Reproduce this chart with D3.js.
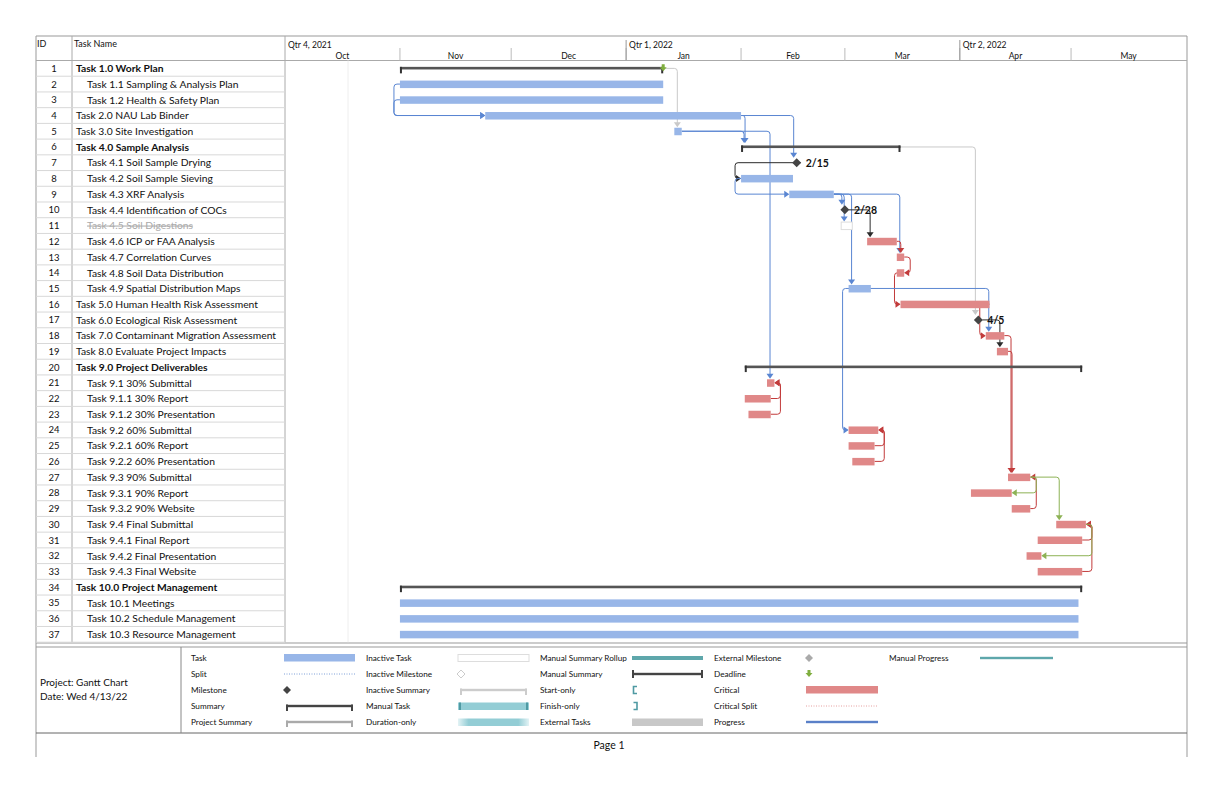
<!DOCTYPE html>
<html>
<head>
<meta charset="utf-8">
<script src="https://cdn.jsdelivr.net/npm/d3@7"></script>
<style>
  body { margin: 0; background: #fff; }
  text { font-family: Lato, "Open Sans", sans-serif; fill: #111; }
</style>
</head>
<body>
<div id="chart"></div>
<script>
// ---- data ----
var taskNames = [
  "Task 1.0 Work Plan", "Task 1.1 Sampling & Analysis Plan", "Task 1.2 Health & Safety Plan",
  "Task 2.0 NAU Lab Binder", "Task 3.0 Site Investigation", "Task 4.0 Sample Analysis",
  "Task 4.1 Soil Sample Drying", "Task 4.2 Soil Sample Sieving", "Task 4.3 XRF Analysis",
  "Task 4.4 Identification of COCs", "Task 4.5 Soil Digestions", "Task 4.6 ICP or FAA Analysis",
  "Task 4.7 Correlation Curves", "Task 4.8 Soil Data Distribution", "Task 4.9 Spatial Distribution Maps",
  "Task 5.0 Human Health Risk Assessment", "Task 6.0 Ecological Risk Assessment",
  "Task 7.0 Contaminant Migration Assessment", "Task 8.0 Evaluate Project Impacts",
  "Task 9.0 Project Deliverables", "Task 9.1 30% Submittal", "Task 9.1.1 30% Report",
  "Task 9.1.2 30% Presentation", "Task 9.2 60% Submittal", "Task 9.2.1 60% Report",
  "Task 9.2.2 60% Presentation", "Task 9.3 90% Submittal", "Task 9.3.1 90% Report",
  "Task 9.3.2 90% Website", "Task 9.4 Final Submittal", "Task 9.4.1 Final Report",
  "Task 9.4.2 Final Presentation", "Task 9.4.3 Final Website", "Task 10.0 Project Management",
  "Task 10.1 Meetings", "Task 10.2 Schedule Management", "Task 10.3 Resource Management"
];
var taskLevels = [0,1,1,0,0,0,1,1,1,1,1,1,1,1,1,0,0,0,0,0,1,1,1,1,1,1,1,1,1,1,1,1,1,0,1,1,1];
var taskKinds = [
  "summary","task","task","task","task","summary","milestone","task","task","milestone",
  "inactive","crit","crit","crit","task","crit","milestone","crit","crit","summary",
  "crit","crit","crit","crit","crit","crit","crit","crit","crit","crit",
  "crit","crit","crit","summary","task","task","task"
];
var taskStarts = [
  "2021-11-01","2021-11-01","2021-11-01","2021-11-24","2022-01-14","2022-02-01","2022-02-15","2022-02-01","2022-02-14","2022-02-28",
  "2022-02-28","2022-03-07","2022-03-15","2022-03-15","2022-03-02","2022-03-16","2022-04-05","2022-04-08","2022-04-11","2022-02-02",
  "2022-02-08","2022-02-02","2022-02-03","2022-03-02","2022-03-02","2022-03-03","2022-04-14","2022-04-04","2022-04-15","2022-04-27",
  "2022-04-22","2022-04-19","2022-04-22","2021-11-01","2021-11-01","2021-11-01","2021-11-01"
];
var taskEnds = [
  "2022-01-11","2022-01-11","2022-01-11","2022-02-01","2022-01-16","2022-03-16","2022-02-15","2022-02-15","2022-02-26","2022-02-28",
  "2022-03-03","2022-03-15","2022-03-17","2022-03-17","2022-03-08","2022-04-09","2022-04-05","2022-04-13","2022-04-14","2022-05-04",
  "2022-02-10","2022-02-09","2022-02-09","2022-03-10","2022-03-09","2022-03-09","2022-04-20","2022-04-15","2022-04-20","2022-05-05",
  "2022-05-04","2022-04-23","2022-05-04","2022-05-04","2022-05-03","2022-05-03","2022-05-03"
];
// [predecessor, successor, type, colour key]
var links = [
  [2,4,"SS","blue"], [3,4,"SS","blue"], [1,5,"FS","grey"], [4,6,"FS","blue"], [4,7,"FS","blue"],
  [5,6,"FS","blue"], [5,21,"FS","blue"], [7,8,"FS","dark"], [8,9,"SS","blue"], [9,10,"FS","blue"],
  [9,11,"FS","blue"], [9,15,"FS","blue"], [9,13,"FS","blue"], [10,12,"FS","dark"], [12,13,"FS","red"],
  [13,14,"FF","red"], [14,16,"FS","red"], [6,17,"FS","grey"], [15,18,"FS","blue"], [17,19,"FS","dark"],
  [16,18,"FS","red"], [18,27,"FS","red"], [19,27,"FS","red"], [15,24,"FS","blue"],
  [22,21,"FF","red"], [23,21,"FF","red"], [25,24,"FF","red"], [26,24,"FF","red"],
  [29,27,"FF","red"], [27,28,"FF","green"], [27,30,"FS","green"], [31,30,"FF","red"],
  [33,30,"FF","red"], [30,32,"FF","green"]
];
var deadlines = [[1, "2022-01-11"]];
var timelineStart = "2021-10-01", timelineEnd = "2022-06-01";
var quarterStarts = ["2021-10-01","2022-01-01","2022-04-01"];
var quarterLabels = ["Qtr 4, 2021","Qtr 1, 2022","Qtr 2, 2022"];
var markerLineDate = "2021-10-18";
var legendLabels = [
  ["Task","Split","Milestone","Summary","Project Summary"],
  ["Inactive Task","Inactive Milestone","Inactive Summary","Manual Task","Duration-only"],
  ["Manual Summary Rollup","Manual Summary","Start-only","Finish-only","External Tasks"],
  ["External Milestone","Deadline","Critical","Critical Split","Progress"],
  ["Manual Progress"]
];
var projectInfo = ["Project: Gantt Chart", "Date: Wed 4/13/22"];
var pageLabel = "Page 1";

// ---- layout ----
var W = 1224, H = 792;
var frameLeft = 36, frameRight = 1187, frameTop = 36, frameBottom = 757;
var idCol = 72, nameCol = 285, headerBottom = 60.5, rowsBottom = 642.2;
var colors = { blue: "#5a86d2", red: "#c23b3b", grey: "#c9c9c9", dark: "#2b2b2b", green: "#8db255" };
var taskFill = "#98b6e8", critFill = "#e08888", summaryColor = "#555";

var parseDate = d3.utcParse("%Y-%m-%d");
var fmtMonth = d3.utcFormat("%b"), fmtMD = d3.utcFormat("%-m/%-d");

var svg = d3.select("#chart").append("svg").attr("width", W).attr("height", H);

var x = d3.scaleUtc().domain([parseDate(timelineStart), parseDate(timelineEnd)]).range([nameCol, 1186]);
var ids = taskNames.map(function (d, i) { return i + 1; });
var y = d3.scaleBand().domain(ids).range([headerBottom, rowsBottom]);
var rowH = y.step();
function cy(id) { return y(id) + rowH / 2; }

var rows = taskNames.map(function (name, i) {
  return { id: i + 1, name: name, level: taskLevels[i], kind: taskKinds[i],
           start: parseDate(taskStarts[i]), end: parseDate(taskEnds[i]) };
});
function mx(r) { return x(d3.utcDay.offset(r.start, 1)); }
function startX(r) { return r.kind === "milestone" ? mx(r) - 4 : x(r.start); }
function endX(r) { return r.kind === "milestone" ? mx(r) + 4 : x(r.end); }

// ---- frame and table ----
var frame = svg.append("g").attr("fill", "none");
function hline(x1, x2, yy, col) {
  frame.append("line").attr("x1", x1).attr("x2", x2).attr("y1", yy).attr("y2", yy).attr("stroke", col);
}
function vline(xx, y1, y2, col) {
  frame.append("line").attr("x1", xx).attr("x2", xx).attr("y1", y1).attr("y2", y2).attr("stroke", col);
}
hline(frameLeft, frameRight, frameTop, "#999");
vline(frameLeft, frameTop, frameBottom, "#999");
vline(frameRight, frameTop, frameBottom, "#999");
hline(frameLeft, frameRight, headerBottom, "#aaa");

// row lines in table
svg.append("g").selectAll("line").data(ids).join("line")
  .attr("x1", frameLeft).attr("x2", nameCol)
  .attr("y1", function (d) { return y(d) + rowH; }).attr("y2", function (d) { return y(d) + rowH; })
  .attr("stroke", "#d8d8d8");
vline(idCol, frameTop, rowsBottom, "#aaa");
vline(nameCol, frameTop, rowsBottom, "#aaa");

svg.append("text").attr("x", 37).attr("y", 47).attr("font-size", 9).text("ID");
svg.append("text").attr("x", 74).attr("y", 47).attr("font-size", 9).text("Task Name");

var tableText = svg.append("g");
tableText.selectAll("text.id").data(rows).join("text")
  .attr("class", "id").attr("x", 54).attr("y", function (d) { return cy(d.id) + 3.5; })
  .attr("text-anchor", "middle").attr("font-size", 9.5).text(function (d) { return d.id; });
tableText.selectAll("text.name").data(rows).join("text")
  .attr("class", "name")
  .attr("x", function (d) { return d.level ? 87 : 76; })
  .attr("y", function (d) { return cy(d.id) + 3.8; })
  .attr("font-size", 10.3)
  .attr("font-weight", function (d) { return d.kind === "summary" ? "bold" : "normal"; })
  .style("fill", function (d) { return d.kind === "inactive" ? "#aaa" : "#111"; })
  .attr("text-decoration", function (d) { return d.kind === "inactive" ? "line-through" : null; })
  .text(function (d) { return d.name; });

// ---- timescale header ----
var months = d3.utcMonths(parseDate(timelineStart), parseDate(timelineEnd));
var hdr = svg.append("g");
hdr.selectAll("line.m").data(months.slice(1)).join("line")
  .attr("x1", function (d) { return x(d); }).attr("x2", function (d) { return x(d); })
  .attr("y1", 48).attr("y2", headerBottom).attr("stroke", "#bbb");
hdr.selectAll("text.m").data(months).join("text")
  .attr("x", function (d) { return (x(d) + x(d3.utcMonth.offset(d, 1))) / 2; })
  .attr("y", 59).attr("text-anchor", "middle").attr("font-size", 8.5)
  .text(function (d) { return fmtMonth(d); });
hdr.selectAll("line.q").data(quarterStarts.slice(1)).join("line")
  .attr("x1", function (d) { return x(parseDate(d)); }).attr("x2", function (d) { return x(parseDate(d)); })
  .attr("y1", 40).attr("y2", headerBottom).attr("stroke", "#999");
hdr.selectAll("text.q").data(quarterStarts).join("text")
  .attr("x", function (d) { return x(parseDate(d)) + 3; }).attr("y", 48).attr("font-size", 8.5)
  .text(function (d, i) { return quarterLabels[i]; });

svg.append("line").attr("x1", x(parseDate(markerLineDate))).attr("x2", x(parseDate(markerLineDate)))
  .attr("y1", headerBottom).attr("y2", rowsBottom).attr("stroke", "#eee");

// ---- links ----
function elbow(pts) {
  var r = 3, d = "M" + pts[0];
  for (var i = 1; i < pts.length - 1; i++) {
    var p0 = pts[i - 1], p1 = pts[i], p2 = pts[i + 1];
    var d1 = Math.hypot(p1[0] - p0[0], p1[1] - p0[1]), d2 = Math.hypot(p2[0] - p1[0], p2[1] - p1[1]);
    if (d1 < 0.01 || d2 < 0.01) { d += "L" + p1; continue; }
    var r1 = Math.min(r, d1 / 2), r2 = Math.min(r, d2 / 2);
    var a = [p1[0] - (p1[0] - p0[0]) / d1 * r1, p1[1] - (p1[1] - p0[1]) / d1 * r1];
    var b = [p1[0] + (p2[0] - p1[0]) / d2 * r2, p1[1] + (p2[1] - p1[1]) / d2 * r2];
    d += "L" + a + "Q" + p1 + " " + b;
  }
  return d + "L" + pts[pts.length - 1];
}
function arrowPath(ax, ay, dir) {
  if (dir === "down") return "M" + (ax - 3.5) + "," + (ay - 5) + "L" + (ax + 3.5) + "," + (ay - 5) + "L" + ax + "," + ay + "Z";
  if (dir === "right") return "M" + (ax - 5) + "," + (ay - 3.5) + "L" + (ax - 5) + "," + (ay + 3.5) + "L" + ax + "," + ay + "Z";
  return "M" + (ax + 5) + "," + (ay - 3.5) + "L" + (ax + 5) + "," + (ay + 3.5) + "L" + ax + "," + ay + "Z";
}

var linkG = svg.append("g");
links.forEach(function (l) {
  var p = rows[l[0] - 1], s = rows[l[1] - 1], c = colors[l[3]];
  var yp = cy(p.id), ys = cy(s.id), pts, tip, dir;
  if (l[2] === "SS") {
    var xv = Math.min(startX(p), startX(s)) - 6;
    pts = [[startX(p), yp], [xv, yp], [xv, ys], [startX(s) - 1, ys]];
    tip = [startX(s), ys]; dir = "right";
  } else if (l[2] === "FF") {
    var xf = Math.max(endX(p), endX(s)) + 6;
    pts = [[endX(p), yp], [xf, yp], [xf, ys], [endX(s) + 1, ys]];
    tip = [endX(s), ys]; dir = "left";
  } else {
    var xe = endX(p), xs = startX(s);
    if (xs >= xe - 1) {
      var xd = s.kind === "milestone" ? mx(s) - 3 : Math.max(xs + 3, xe + 4);
      var topY = ys - (s.kind === "milestone" ? 5 : 4);
      pts = [[xe, yp], [xd, yp], [xd, topY - 2]];
      tip = [xd, topY]; dir = "down";
    } else {
      pts = [[xe, yp], [xs - 6, yp], [xs - 6, ys], [xs - 1, ys]];
      tip = [xs, ys]; dir = "right";
    }
  }
  linkG.append("path").attr("d", elbow(pts)).attr("fill", "none").attr("stroke", c).attr("stroke-width", 1);
  linkG.append("path").attr("d", arrowPath(tip[0], tip[1], dir)).attr("fill", c);
});

// ---- bars ----
var barG = svg.append("g");
rows.forEach(function (r) {
  var c = cy(r.id);
  if (r.kind === "task" || r.kind === "crit") {
    barG.append("rect").attr("x", x(r.start)).attr("y", c - 3.5)
      .attr("width", x(r.end) - x(r.start)).attr("height", 7.5)
      .attr("fill", r.kind === "crit" ? critFill : taskFill);
  } else if (r.kind === "inactive") {
    barG.append("rect").attr("x", x(r.start)).attr("y", c - 3.5)
      .attr("width", x(r.end) - x(r.start)).attr("height", 7.5)
      .attr("fill", "#fff").attr("stroke", "#ddd");
  } else if (r.kind === "summary") {
    var x0 = x(r.start), x1 = x(r.end);
    barG.append("rect").attr("x", x0).attr("y", c - 1.5).attr("width", x1 - x0).attr("height", 2.6).attr("fill", summaryColor);
    barG.append("rect").attr("x", x0).attr("y", c - 1.5).attr("width", 2).attr("height", 6.5).attr("fill", "#333");
    barG.append("rect").attr("x", x1 - 2).attr("y", c - 1.5).attr("width", 2).attr("height", 6.5).attr("fill", "#333");
  } else if (r.kind === "milestone") {
    var m = mx(r);
    barG.append("path").attr("d", "M" + m + "," + (c - 4.5) + "L" + (m + 4.5) + "," + c + "L" + m + "," + (c + 4.5) + "L" + (m - 4.5) + "," + c + "Z")
      .attr("fill", "#444");
    barG.append("text").attr("x", m + 9).attr("y", c + 4).attr("font-size", 10.5).attr("font-weight", "bold")
      .text(fmtMD(r.start));
  }
});

// deadline markers
deadlines.forEach(function (d) {
  var dx = x(parseDate(d[1])), dy = cy(d[0]);
  barG.append("path")
    .attr("d", "M" + (dx - 1.5) + "," + (dy - 4) + "H" + (dx + 1.5) + "V" + (dy - 1) + "H" + (dx + 3.5) + "L" + dx + "," + (dy + 3) + "L" + (dx - 3.5) + "," + (dy - 1) + "H" + (dx - 1.5) + "Z")
    .attr("fill", "#7fae3e");
});

// ---- legend ----
hline(frameLeft, frameRight, 643, "#999");
hline(frameLeft, frameRight, 647, "#999");
hline(frameLeft, frameRight, 733, "#666");
vline(181, 647, 733, "#888");

svg.append("g").selectAll("text").data(projectInfo).join("text")
  .attr("x", 40).attr("y", function (d, i) { return 686 + i * 14; })
  .attr("font-size", 10).text(function (d) { return d; });
svg.append("text").attr("x", 609).attr("y", 749).attr("text-anchor", "middle").attr("font-size", 10.5).text(pageLabel);

var defs = svg.append("defs");
var grad = defs.append("linearGradient").attr("id", "durOnly");
grad.append("stop").attr("offset", "0%").attr("stop-color", "#e3f3f5");
grad.append("stop").attr("offset", "15%").attr("stop-color", "#93cdd5");
grad.append("stop").attr("offset", "85%").attr("stop-color", "#93cdd5");
grad.append("stop").attr("offset", "100%").attr("stop-color", "#e3f3f5");

var labelX = [191, 366, 540, 714, 889];
var symX = [[284, 355], [458, 529], [632, 703], [806, 878], [980, 1053]];
var legendY = [658, 674, 690, 706, 722];
var lg = svg.append("g");

function bracket(g, a, b, yy, col, capUp) {
  g.append("rect").attr("x", a).attr("y", yy - 1.2).attr("width", b - a).attr("height", 2.4).attr("fill", col);
  var ch = capUp ? 8 : 6.5, cyy = capUp ? yy - 4 : yy - 1.5;
  g.append("rect").attr("x", a).attr("y", cyy).attr("width", 2).attr("height", ch).attr("fill", col);
  g.append("rect").attr("x", b - 2).attr("y", cyy).attr("width", 2).attr("height", ch).attr("fill", col);
}
function diamond(g, cx0, yy, fill, stroke) {
  g.append("path").attr("d", "M" + cx0 + "," + (yy - 4) + "L" + (cx0 + 4) + "," + yy + "L" + cx0 + "," + (yy + 4) + "L" + (cx0 - 4) + "," + yy + "Z")
    .attr("fill", fill).attr("stroke", stroke || "none");
}

legendLabels.forEach(function (col, ci) {
  col.forEach(function (label, ri) {
    var yy = legendY[ri], a = symX[ci][0], b = symX[ci][1];
    lg.append("text").attr("x", labelX[ci]).attr("y", yy + 3).attr("font-size", 8.2).text(label);
    switch (label) {
      case "Task": lg.append("rect").attr("x", a).attr("y", yy - 4).attr("width", b - a).attr("height", 7.5).attr("fill", taskFill); break;
      case "Split": lg.append("line").attr("x1", a).attr("x2", b).attr("y1", yy).attr("y2", yy).attr("stroke", "#7fa0d8").attr("stroke-dasharray", "1,1.5"); break;
      case "Milestone": diamond(lg, a + 3, yy, "#444"); break;
      case "Summary": bracket(lg, a + 2, b - 2, yy, "#444", false); break;
      case "Project Summary": bracket(lg, a + 2, b - 2, yy, "#aaa", false); break;
      case "Inactive Task": lg.append("rect").attr("x", a).attr("y", yy - 3.5).attr("width", b - a).attr("height", 7).attr("fill", "#fff").attr("stroke", "#ddd"); break;
      case "Inactive Milestone": diamond(lg, a + 3, yy, "#fff", "#ccc"); break;
      case "Inactive Summary": bracket(lg, a + 2, b - 2, yy, "#ccc", false); break;
      case "Manual Task":
        lg.append("rect").attr("x", a).attr("y", yy - 3.5).attr("width", b - a).attr("height", 7.5).attr("fill", "#93cdd5");
        lg.append("rect").attr("x", a + 1).attr("y", yy - 3.5).attr("width", 2).attr("height", 7.5).attr("fill", "#4f9aa3");
        lg.append("rect").attr("x", b - 3).attr("y", yy - 3.5).attr("width", 2).attr("height", 7.5).attr("fill", "#4f9aa3");
        break;
      case "Duration-only": lg.append("rect").attr("x", a).attr("y", yy - 3.5).attr("width", b - a).attr("height", 7.5).attr("fill", "url(#durOnly)"); break;
      case "Manual Summary Rollup": lg.append("rect").attr("x", a).attr("y", yy - 2).attr("width", b - a).attr("height", 4).attr("fill", "#5ea7ab"); break;
      case "Manual Summary": bracket(lg, a, b, yy, "#444", true); break;
      case "Start-only":
        lg.append("path").attr("d", "M" + (a + 5) + "," + (yy - 3.5) + "H" + (a + 1.5) + "V" + (yy + 3.5) + "H" + (a + 5)).attr("fill", "none").attr("stroke", "#4f9aa3").attr("stroke-width", 1.6); break;
      case "Finish-only":
        lg.append("path").attr("d", "M" + (a + 1.5) + "," + (yy - 3.5) + "H" + (a + 5) + "V" + (yy + 3.5) + "H" + (a + 1.5)).attr("fill", "none").attr("stroke", "#4f9aa3").attr("stroke-width", 1.6); break;
      case "External Tasks": lg.append("rect").attr("x", a).attr("y", yy - 3.5).attr("width", b - a).attr("height", 7.5).attr("fill", "#c8c8c8"); break;
      case "External Milestone": diamond(lg, a + 3, yy, "#aaa"); break;
      case "Deadline":
        lg.append("path").attr("d", "M" + (a + 1.5) + "," + (yy - 4) + "H" + (a + 4.5) + "V" + (yy - 1) + "H" + (a + 6.5) + "L" + (a + 3) + "," + (yy + 3) + "L" + (a - 0.5) + "," + (yy - 1) + "H" + (a + 1.5) + "Z").attr("fill", "#7fae3e"); break;
      case "Critical": lg.append("rect").attr("x", a).attr("y", yy - 4).attr("width", b - a).attr("height", 7.5).attr("fill", critFill); break;
      case "Critical Split": lg.append("line").attr("x1", a).attr("x2", b).attr("y1", yy).attr("y2", yy).attr("stroke", "#e6a0a0").attr("stroke-dasharray", "1,1.5"); break;
      case "Progress": lg.append("rect").attr("x", a).attr("y", yy - 1.2).attr("width", b - a).attr("height", 2.4).attr("fill", "#5a80c8"); break;
      case "Manual Progress": lg.append("rect").attr("x", a).attr("y", yy - 1.2).attr("width", b - a).attr("height", 2.4).attr("fill", "#5ea7ab"); break;
    }
  });
});
</script>
</body>
</html>
